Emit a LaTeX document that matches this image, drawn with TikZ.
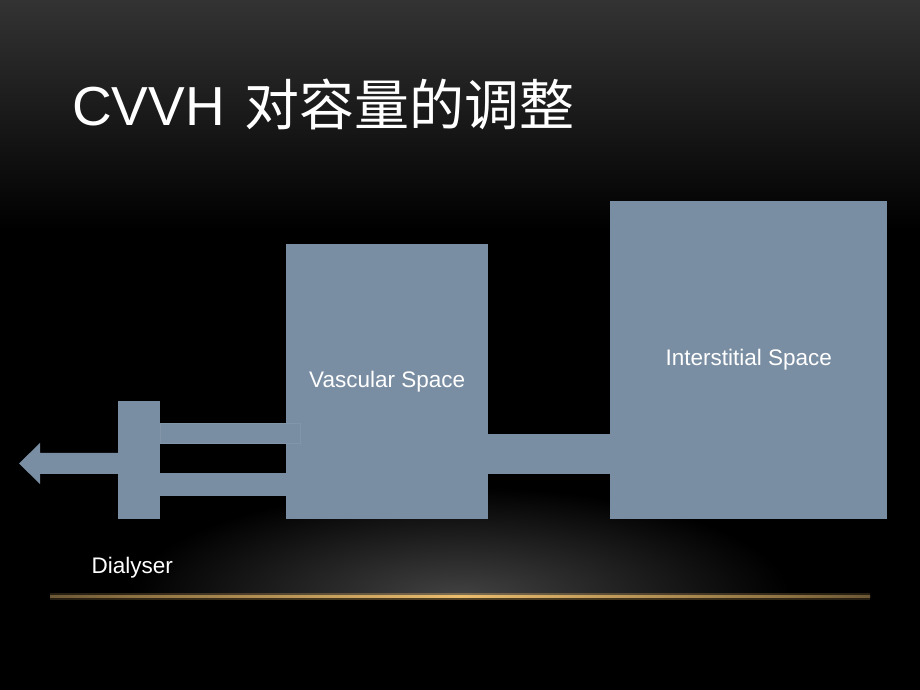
\documentclass[tikz,border=0pt]{standalone}
\usepackage{fontspec}
\setmainfont{Liberation Sans}
\newfontfamily\cjk{Noto Sans CJK SC}
\usetikzlibrary{positioning}

\definecolor{slate}{RGB}{122,142,163}
\definecolor{glowgold}{RGB}{236,190,110}

\pgfdeclarehorizontalshading{floorline}{100bp}{
    color(0bp)=(black); color(12bp)=(black!92);
    color(30bp)=(glowgold!60!black); color(50bp)=(glowgold);
    color(70bp)=(glowgold!60!black); color(88bp)=(black!92);
    color(100bp)=(black)}

\tikzset{
    block/.style={fill=slate, draw=none, inner sep=0pt, anchor=south west,
        text=white, font=\fontsize{22.5}{27}\selectfont},
    label text/.style={text=white, font=\fontsize{22.5}{27}\selectfont},
}

\begin{document}
\begin{tikzpicture}[x=1pt, y=1pt]
    \useasboundingbox (0,0) rectangle (920,690);

    % Background
    \fill[black] (0,0) rectangle (920,690);
    \shade[top color=black!80, bottom color=black]
        (0,690) rectangle (920,460);

    % Glow above the floor line
    \begin{scope}
        \clip (0,93) rectangle (920,300);
        \shade[inner color=black!74, outer color=black]
            (460,93) ellipse [x radius=330, y radius=110];
    \end{scope}
    \shade[shading=floorline, opacity=0.35]
        (50,90) rectangle (870,96.5);
    \shade[shading=floorline]
        (50,92) rectangle (870,94.5);

    % Title
    \node[anchor=base west, inner sep=0pt, text=white,
        font=\fontsize{55}{62}\selectfont] (title) at (72,564)
        {CVVH\hspace{4pt} {\cjk 对容量的调整}};

    % Spaces
    \node[block, minimum width=202, minimum height=275] (vascular)
        at (286,171) {Vascular Space};
    \node[block, minimum width=277, minimum height=318] (interstitial)
        at (610,171) {Interstitial Space};

    % Dialyser
    \node[block, minimum width=42, minimum height=118] (dialyser)
        at (118,171) {};
    \node[label text, below=35pt of dialyser, xshift=-7pt] (dialyserlabel)
        {Dialyser};

    % Tubes
    \fill[slate, draw=slate!94!white, line width=0.4pt]
        (dialyser.east |- 0,247)
        rectangle ([xshift=14pt]vascular.west |- 0,267);
    \fill[slate]
        (dialyser.east |- 0,194)
        rectangle (vascular.west |- 0,217);
    \fill[slate]
        (vascular.east |- 0,216)
        rectangle (interstitial.west |- 0,256);

    % Outflow arrow
    \coordinate (arrowtip) at (19,226.5);
    \fill[slate]
        (dialyser.west |- 0,237)
        -- (40,237) -- (40,247)
        -- (arrowtip)
        -- (40,206) -- (40,216)
        -- (dialyser.west |- 0,216)
        -- cycle;
\end{tikzpicture}
\end{document}
